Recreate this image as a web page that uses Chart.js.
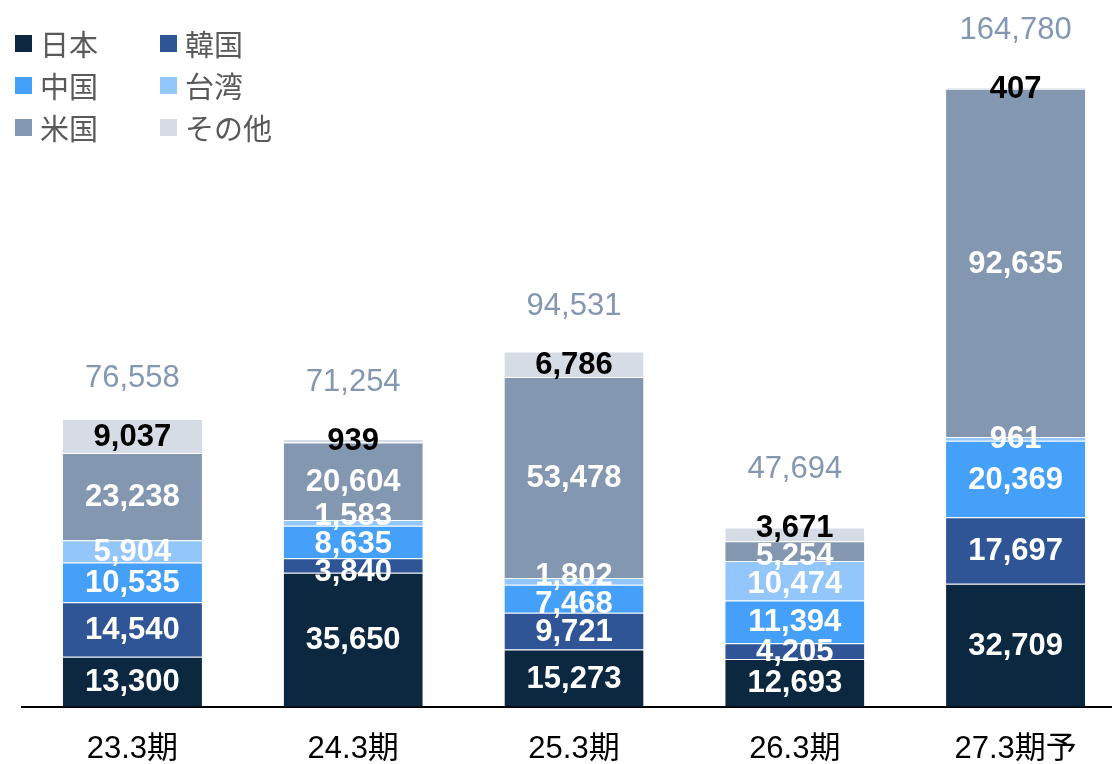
<!DOCTYPE html>
<html lang="ja">
<head>
<meta charset="utf-8">
<script src="https://cdn.jsdelivr.net/npm/chart.js@4.4.1/dist/chart.umd.min.js"></script>
<style>
  html, body { margin: 0; padding: 0; background: #fff; overflow: hidden; }
  #wrap { position: relative; width: 1112px; height: 764px; overflow: hidden; }
  #chart { position: absolute; left: 0; top: 0; }
  #legend {
    position: absolute; left: 15px; top: 22px;
    display: grid; grid-template-columns: 145px 140px; row-gap: 0;
    font-family: 'Noto Sans CJK JP', sans-serif; font-size: 29px; color: #595959;
  }
  #legend .item { display: flex; align-items: center; height: 42px; }
  #legend .box { width: 17px; height: 17px; margin-right: 8px; }
</style>
</head>
<body>
<div id="wrap">
  <canvas id="chart" width="1126" height="792"></canvas>
  <div id="legend"></div>
</div>
<script>
// カテゴリと系列
const categories = ['23.3期', '24.3期', '25.3期', '26.3期', '27.3期予'];
const seriesNames = ['日本', '韓国', '中国', '台湾', '米国', 'その他'];
const seriesColors = ['#0B2840', '#2F5597', '#45A0F9', '#93C6FA', '#8497B0', '#D6DCE5'];

const japan  = [13300, 35650, 15273, 12693, 32709];
const korea  = [14540,  3840,  9721,  4205, 17697];
const china  = [10535,  8635,  7468, 11394, 20369];
const taiwan = [ 5904,  1583,  1802, 10474,   961];
const usa    = [23238, 20604, 53478,  5254, 92635];
const other  = [ 9037,   939,  6786,  3671,   407];
const totals = [76558, 71254, 94531, 47694, 164780];

const seriesValues = [japan, korea, china, taiwan, usa, other];

const numFmt = v => v.toLocaleString('en-US');

// ラベル描画（重なりを少しずらす）
const labelPlugin = {
  id: 'stackLabels',
  afterDatasetsDraw(chart) {
    const ctx = chart.ctx;
    const gap = 28;
    ctx.save();
    ctx.textAlign = 'center';
    ctx.textBaseline = 'middle';
    categories.forEach((cat, i) => {
      const items = chart.data.datasets.map((ds, d) => {
        const el = chart.getDatasetMeta(d).data[i];
        return { y: (el.y + el.base) / 2, x: el.x, d: d, v: ds.data[i] };
      });
      // 下から上へ、近すぎるラベルを離す
      for (let it = 0; it < 60; it++) {
        for (let k = 0; k < items.length - 1; k++) {
          const lo = items[k], hi = items[k + 1];
          const diff = lo.y - hi.y;
          if (diff < gap) {
            const s = (gap - diff) / 2;
            lo.y += s;
            hi.y -= s;
          }
        }
      }
      ctx.font = "bold 31px 'Liberation Sans', Arial, sans-serif";
      items.forEach(o => {
        ctx.fillStyle = o.d === items.length - 1 ? '#000000' : '#FFFFFF';
        ctx.fillText(numFmt(o.v), o.x, o.y + 1);
      });
      const topItem = items[items.length - 1];
      ctx.font = "31px 'Liberation Sans', Arial, sans-serif";
      ctx.fillStyle = '#8497B0';
      ctx.fillText(numFmt(totals[i]), topItem.x, topItem.y - 58);
    });
    ctx.restore();
  }
};

const datasets = seriesNames.map((name, d) => ({
  label: name,
  data: seriesValues[d],
  backgroundColor: seriesColors[d],
  borderColor: 'rgba(255,255,255,0.35)',
  borderWidth: { top: 1, left: 0, right: 0, bottom: 0 },
  borderSkipped: 'start',
  barPercentage: 1,
  categoryPercentage: 0.63
}));

// 凡例（2列×3行）
const legendEl = document.getElementById('legend');
seriesNames.forEach((name, d) => {
  const item = document.createElement('div');
  item.className = 'item';
  item.innerHTML = '<span class="box" style="background:' + seriesColors[d] + '"></span><span>' + name + '</span>';
  legendEl.appendChild(item);
});

new Chart(document.getElementById('chart').getContext('2d'), {
  type: 'bar',
  data: { labels: categories, datasets: datasets },
  options: {
    responsive: false,
    animation: false,
    layout: { padding: { left: 22, right: 0, top: 0, bottom: 0 } },
    plugins: {
      legend: { display: false },
      tooltip: { enabled: false }
    },
    scales: {
      x: {
        stacked: true,
        grid: { display: false, drawTicks: false },
        border: { display: true, color: '#000000', width: 2 },
        ticks: {
          color: '#000000',
          padding: 24,
          font: { family: "'Liberation Sans', 'Noto Sans CJK JP', sans-serif", size: 31 }
        }
      },
      y: {
        stacked: true,
        display: false,
        min: 0,
        max: 188000
      }
    }
  },
  plugins: [labelPlugin]
});
</script>
</body>
</html>
